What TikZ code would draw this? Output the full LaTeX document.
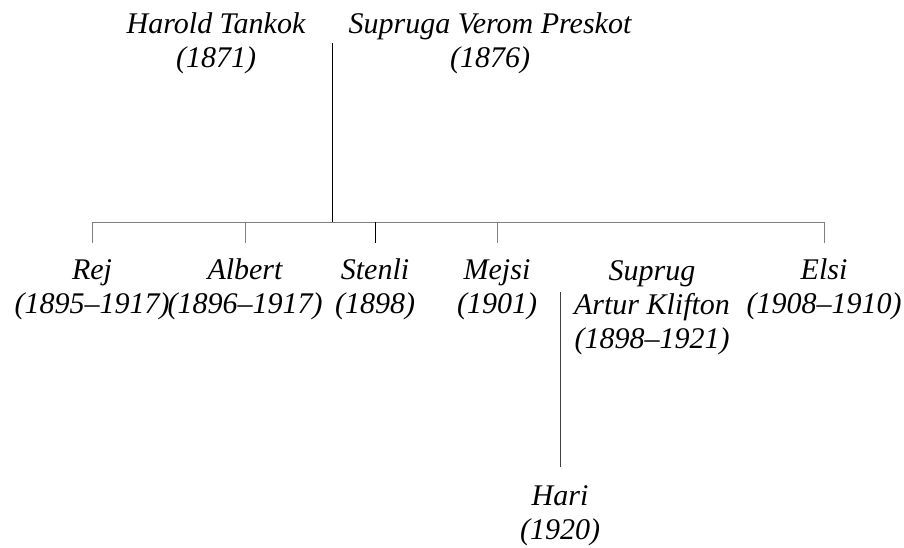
\documentclass[tikz,border=0pt]{standalone}
\usepackage{fontspec}
\setmainfont{Liberation Serif}

\begin{document}
\begin{tikzpicture}[x=1pt, y=-1pt, osoba/.style = {align=center, inner sep=0pt, anchor=base, font=\fontsize{30}{34}\selectfont\itshape}, veza/.style = {draw=gray, line width=1pt}]
			\useasboundingbox (0,0) rectangle (904,547);
			\node[osoba] (harold) at (216,67) {Harold Tankok\\(1871)};
			\node[osoba] (supruga) at (490,67) {Supruga Verom Preskot\\(1876)};
			\node[osoba] (rej) at (92,313) {Rej\\(1895–1917)};
			\node[osoba] (albert) at (245,313) {Albert\\(1896–1917)};
			\node[osoba] (stenli) at (375,313) {Stenli\\(1898)};
			\node[osoba] (mejsi) at (497,313) {Mejsi\\(1901)};
			\node[osoba] (suprug) at (652,348) {Suprug\\Artur Klifton\\(1898–1921)};
			\node[osoba] (elsi) at (824,313) {Elsi\\(1908–1910)};
			\node[osoba] (hari) at (560,539) {Hari\\(1920)};
			\coordinate (par) at (332,43);
			\coordinate (bar) at (332,222);
			\coordinate (brak) at (560,292);
			\draw[line width=1pt] (par) -- (bar);
			\draw[veza] (bar -| rej) -- (bar -| elsi);
			\draw[veza] (bar -| rej) -- ([yshift=70pt]rej.base);
			\draw[veza] (bar -| albert) -- ([yshift=70pt]albert.base);
			\draw[line width=1pt] (bar -| stenli) -- ([yshift=70pt]stenli.base);
			\draw[veza] (bar -| mejsi) -- ([yshift=70pt]mejsi.base);
			\draw[veza] (bar -| elsi) -- ([yshift=70pt]elsi.base);
			\draw[veza, draw=darkgray] (brak) -- ([yshift=72pt]hari.base);
\end{tikzpicture}
\end{document}
